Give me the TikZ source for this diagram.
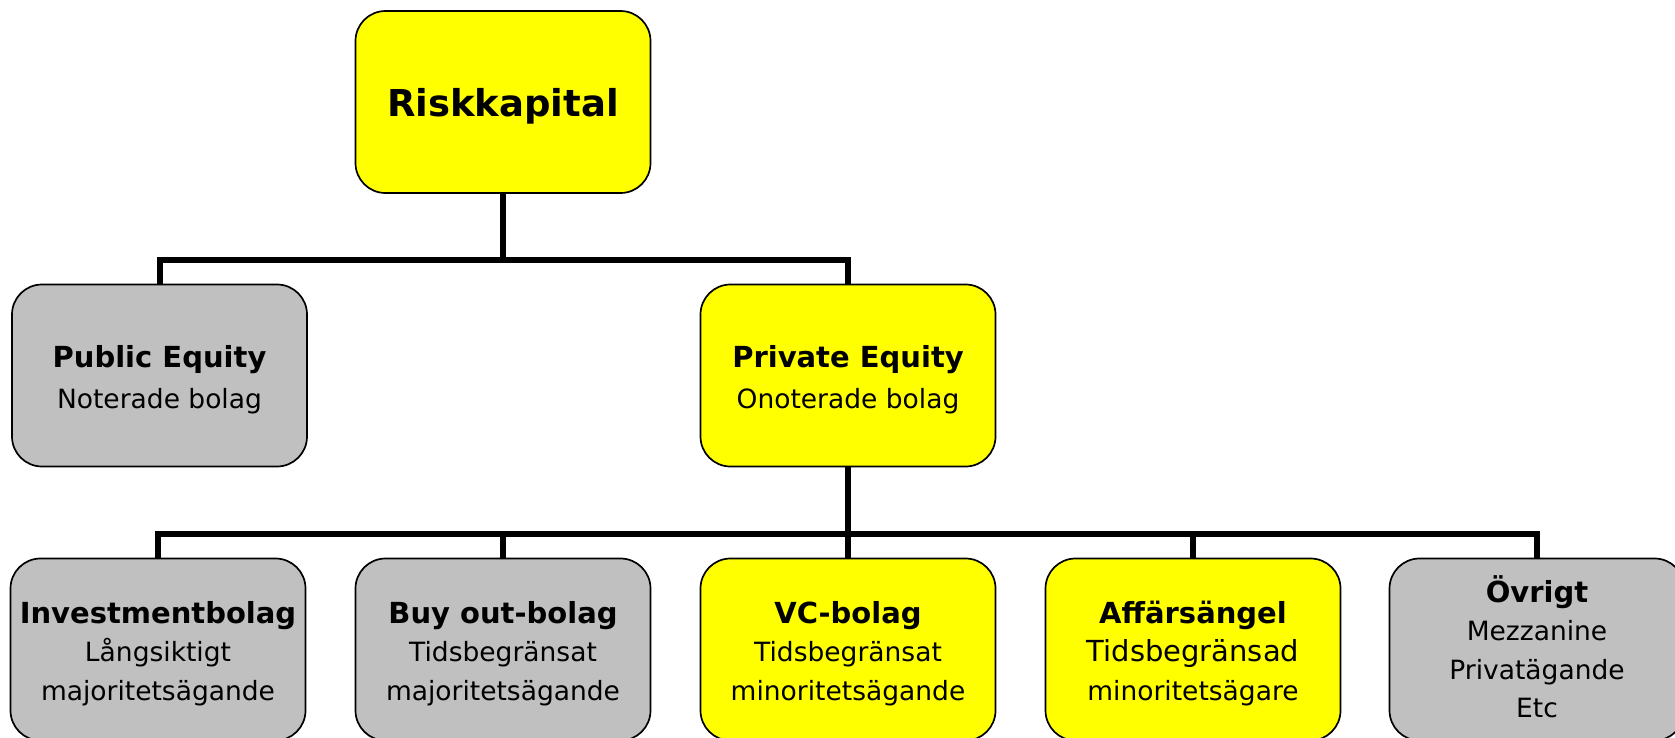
\documentclass[tikz,border=0pt]{standalone}
\usepackage{fontspec}
\setmainfont{DejaVu Sans}
\definecolor{boxyellow}{HTML}{FFFF00}
\definecolor{boxgray}{HTML}{C0C0C0}
\newcommand{\ttl}[1]{{\fontsize{29}{40}\selectfont\bfseries #1}}
\tikzset{
  orgbox/.style={draw=black, line width=1.7pt, rounded corners=30pt, minimum width=295pt, minimum height=182pt, inner sep=0pt},
  ybox/.style={orgbox, fill=boxyellow},
  gbox/.style={orgbox, fill=boxgray},
  txt/.style={align=center, inner sep=0pt},
  midfont/.style={txt, font=\fontsize{26.5}{40.5}\selectfont},
  lowfont/.style={txt, font=\fontsize{26.5}{38.5}\selectfont},
  conn/.style={line width=6pt}
}
\begin{document}
\begin{tikzpicture}[x=1pt,y=-1pt]
\useasboundingbox (0,0) rectangle (1675,737);
\clip (0,0) rectangle (1675,737);
\node[ybox, font=\fontsize{37}{44}\selectfont\bfseries, text depth=0pt] (risk) at (503,102) {Riskkapital};
\node[gbox] (pub) at (159.5,375.5) {};
\node[ybox] (priv) at (848,375.5) {};
\node[gbox] (inv) at (158,649.5) {};
\node[gbox] (buy) at (503,649.5) {};
\node[ybox] (vc) at (848,649.5) {};
\node[ybox] (aff) at (1193,649.5) {};
\node[gbox] (ovr) at (1537,649.5) {};
\node[midfont] (pubtxt) at ([yshift=-4pt]pub.center) {\ttl{Public Equity}\\Noterade bolag};
\node[midfont] (privtxt) at ([yshift=-4pt]priv.center) {\ttl{Private Equity}\\Onoterade bolag};
\node[lowfont] (invtxt) at ([yshift=-4pt]inv.center) {\ttl{Investmentbolag}\\Långsiktigt\\majoritetsägande};
\node[lowfont] (buytxt) at ([yshift=-4pt]buy.center) {\ttl{Buy out-bolag}\\Tidsbegränsat\\majoritetsägande};
\node[lowfont] (vctxt) at ([yshift=-4pt]vc.center) {\ttl{VC-bolag}\\Tidsbegränsat\\minoritetsägande};
\node[lowfont] (afftxt) at ([yshift=-4pt]aff.center) {\ttl{Affärsängel}\\{\fontsize{29}{38.5}\selectfont Tidsbegränsad}\\minoritetsägare};
\node[lowfont] (ovrtxt) at ([yshift=3pt]ovr.center) {\ttl{Övrigt}\\Mezzanine\\Privatägande\\Etc};
\coordinate (bar1) at (503,260);
\coordinate (bar2) at (848,534);
\draw[conn] (risk.south) -- (bar1) -| (pub.north);
\draw[conn] (bar1) -| (priv.north);
\draw[conn] (priv.south) -- (bar2) -| (inv.north);
\draw[conn] (bar2) -| (ovr.north);
\draw[conn] (bar2) -- (vc.north);
\draw[conn] (buy.north) |- (bar2);
\draw[conn] (aff.north) |- (bar2);
\end{tikzpicture}
\end{document}
